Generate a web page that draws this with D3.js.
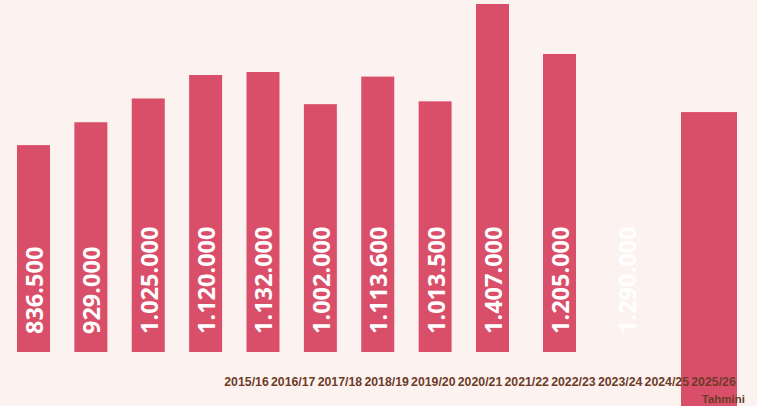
<!DOCTYPE html>
<html>
<head>
<meta charset="utf-8">
<script src="https://cdn.jsdelivr.net/npm/d3@7"></script>
<style>
  html, body { margin: 0; padding: 0; background: #fcf3f1; }
  svg { display: block; }
</style>
</head>
<body>
<div id="chart"></div>
<script>
'use strict';

// categories and values
var years = ['2015/16', '2016/17', '2017/18', '2018/19', '2019/20', '2020/21',
             '2021/22', '2022/23', '2023/24', '2024/25', '2025/26'];
var values = [836500, 929000, 1025000, 1120000, 1132000, 1002000,
              1113600, 1013500, 1407000, 1205000, 1290000];
// the last value has no bar of its own; a wide bar sits to the right of it instead
var barCount = 10;
var estimateBar = [-220000, 970000];
var estimateNote = 'Tahmini';

function makeChart(containerSelector) {
  var width = 757;
  var height = 406;
  var baseline = 352;

  var svg = d3.select(containerSelector)
    .append('svg')
    .attr('width', width)
    .attr('height', height);

  svg.append('rect')
    .attr('width', width)
    .attr('height', height)
    .attr('fill', '#fcf3f1');

  var y = d3.scaleLinear()
    .domain([0, 1407000])
    .range([baseline, 4]);

  // slot index -> left edge of the bar (spacing widens towards the right)
  var x = d3.scaleLinear()
    .domain([0, 8, 9, 10, 11])
    .range([17, 476, 543, 610.5, 681]);
  var barWidth = 33;
  var barColour = '#d94f69';

  var bars = values.slice(0, barCount);

  svg.selectAll('.bar')
    .data(bars)
    .enter().append('rect')
    .attr('class', 'bar')
    .attr('x', function(d, i) { return x(i); })
    .attr('y', function(d) { return y(d); })
    .attr('width', barWidth)
    .attr('height', function(d) { return baseline - y(d); })
    .attr('fill', barColour);

  svg.append('rect')
    .attr('class', 'estimate')
    .attr('x', x(11))
    .attr('y', y(estimateBar[1]))
    .attr('width', 56)
    .attr('height', y(estimateBar[0]) - y(estimateBar[1]))
    .attr('fill', barColour);

  svg.selectAll('.value')
    .data(values)
    .enter().append('text')
    .attr('class', 'value')
    .attr('transform', function(d, i) {
      return 'translate(' + (x(i) + barWidth / 2 + 1) + ',' + 334 + ') rotate(-90)';
    })
    .attr('dy', '0.36em')
    .attr('text-anchor', 'start')
    .attr('fill', '#ffffff')
    .style('font-family', '"Open Sans", sans-serif')
    .style('font-weight', 700)
    .style('font-size', '23.5px')
    .text(function(d) { return d3.format(',')(d).replace(/,/g, '.'); });

  // category labels along the bottom, packed together on the right
  var xl = d3.scalePoint()
    .domain(years)
    .range([246, 713]);

  var axis = d3.axisBottom(xl).tickSize(0).tickPadding(0);

  var axisG = svg.append('g')
    .attr('class', 'axis')
    .attr('transform', 'translate(0,377)')
    .call(axis);

  axisG.select('.domain').remove();
  axisG.selectAll('text')
    .attr('fill', '#6e3b28')
    .style('font-family', '"Liberation Sans", Arial, sans-serif')
    .style('font-weight', 'bold')
    .style('font-size', '12.3px');

  svg.append('text')
    .attr('x', 745)
    .attr('y', 403)
    .attr('text-anchor', 'end')
    .attr('fill', '#6e3b28')
    .style('font-family', '"Liberation Sans", Arial, sans-serif')
    .style('font-weight', 'bold')
    .style('font-size', '11.5px')
    .text(estimateNote);
}

makeChart('#chart');
</script>
</body>
</html>
